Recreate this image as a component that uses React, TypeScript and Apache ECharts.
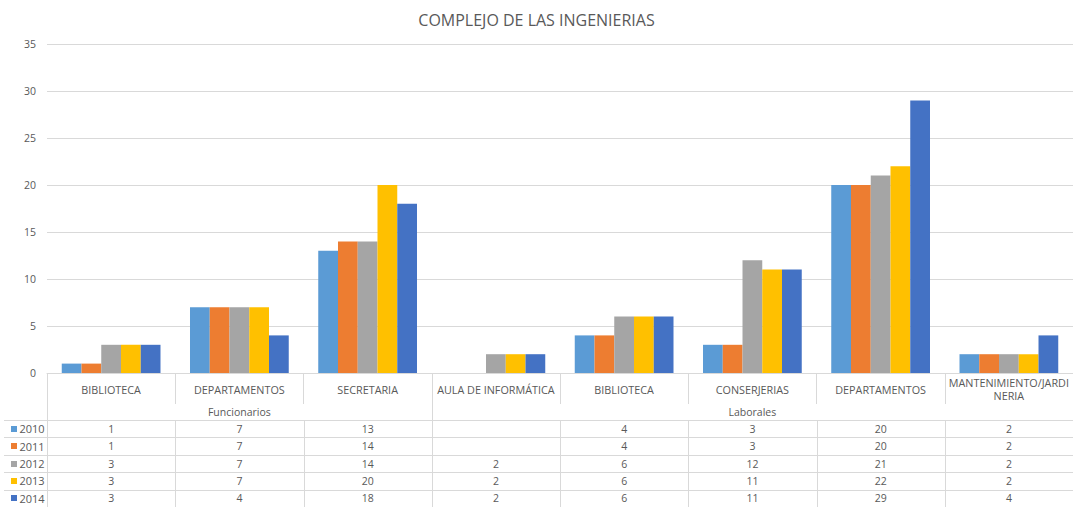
import React, { useEffect, useRef } from "react";
import * as echarts from "echarts";

const title = "COMPLEJO DE LAS INGENIERIAS";
const categories = [
  "BIBLIOTECA",
  "DEPARTAMENTOS",
  "SECRETARIA",
  "AULA DE INFORMÁTICA",
  "BIBLIOTECA",
  "CONSERJERIAS",
  "DEPARTAMENTOS",
  "MANTENIMIENTO/JARDINERIA",
];
const groups = [
  { name: "Funcionarios", start: 0, end: 2 },
  { name: "Laborales", start: 3, end: 7 },
];
const seriesNames = ["2010", "2011", "2012", "2013", "2014"];
const v2010 = [1, 7, 13, null, 4, 3, 20, 2];
const v2011 = [1, 7, 14, null, 4, 3, 20, 2];
const v2012 = [3, 7, 14, 2, 6, 12, 21, 2];
const v2013 = [3, 7, 20, 2, 6, 11, 22, 2];
const v2014 = [3, 4, 18, 2, 6, 11, 29, 4];
const seriesValues = [v2010, v2011, v2012, v2013, v2014];
const colors = ["#5B9BD5", "#ED7D31", "#A5A5A5", "#FFC000", "#4472C4"];
const yTicks = { min: 0, max: 35, interval: 5 };

const FONT = "'Open Sans', 'Noto Sans', sans-serif";
const TXT = "#595959";
const LINE = "#d9d9d9";
const W = 1073;
const H = 507;
const GRID_LEFT = 47;
const GRID_TOP = 44;
const GRID_BOTTOM = 134;
const TABLE_TOP = 420;
const ROW_H = 17.4;

export default function App() {
  const ref = useRef<HTMLDivElement>(null);
  useEffect(() => {
    if (!ref.current) return;
    const chart = echarts.init(ref.current, undefined, { renderer: "svg" });
    chart.setOption({
      animation: false,
      title: {
        text: title,
        left: "center",
        top: 7,
        textStyle: { fontFamily: FONT, fontSize: 16, fontWeight: "normal", color: TXT },
      },
      grid: { left: GRID_LEFT, right: 0, top: GRID_TOP, bottom: GRID_BOTTOM, containLabel: false },
      xAxis: {
        type: "category",
        data: categories,
        axisLine: { show: true, lineStyle: { color: LINE } },
        axisTick: { show: true, length: 31, lineStyle: { color: LINE } },
        axisLabel: {
          interval: 0,
          color: TXT,
          fontFamily: FONT,
          fontSize: 10.8,
          verticalAlign: "middle",
          margin: 16,
          lineHeight: 13,
          formatter: (v: string) => (v.length > 20 ? v.slice(0, 19) + "\n" + v.slice(19) : v),
        },
      },
      yAxis: {
        type: "value",
        min: yTicks.min,
        max: yTicks.max,
        interval: yTicks.interval,
        axisLine: { show: false },
        axisTick: { show: false },
        splitLine: { lineStyle: { color: LINE } },
        axisLabel: { color: TXT, fontFamily: FONT, fontSize: 10.5, margin: 11 },
      },
      series: seriesNames.map((n, i) => ({
        type: "bar",
        name: n,
        data: seriesValues[i],
        itemStyle: { color: colors[i] },
        barGap: "0%",
        barCategoryGap: "23%",
      })),
    });

    const px = (i: number) => chart.convertToPixel({ xAxisIndex: 0 }, i) as number;
    const cw = px(1) - px(0);
    const axisY = H - GRID_BOTTOM;
    const elements: any[] = [];
    const lineStyle = { stroke: LINE, lineWidth: 1 };
    elements.push({ type: "line", shape: { x1: GRID_LEFT + 0.5, y1: axisY, x2: GRID_LEFT + 0.5, y2: H }, style: lineStyle });
    const groupBounds = groups.slice(1).map((g) => g.start);
    for (let i = 1; i < categories.length; i++) {
      const x = Math.round(px(i) - cw / 2) + 0.5;
      const full = groupBounds.includes(i);
      elements.push({
        type: "line",
        shape: { x1: x, y1: full ? axisY : TABLE_TOP, x2: x, y2: H },
        style: lineStyle,
      });
    }
    for (let r = 0; r <= seriesNames.length; r++) {
      const y = Math.round(TABLE_TOP + r * ROW_H) + 0.5;
      elements.push({ type: "line", shape: { x1: 4, y1: y, x2: W, y2: y }, style: lineStyle });
    }
    groups.forEach((g) => {
      const x0 = px(g.start) - cw / 2;
      const x1 = px(g.end) + cw / 2;
      elements.push({
        type: "text",
        x: (x0 + x1) / 2,
        y: 412,
        style: { text: g.name, fill: TXT, font: `10.5px ${FONT}`, align: "center", verticalAlign: "middle" },
      });
    });
    seriesNames.forEach((n, r) => {
      const cy = TABLE_TOP + (r + 0.5) * ROW_H;
      elements.push({ type: "rect", shape: { x: 11, y: Math.round(cy) - 3, width: 6, height: 6 }, style: { fill: colors[r] } });
      elements.push({
        type: "text",
        x: 19.5,
        y: cy,
        style: { text: n, fill: TXT, font: `11px ${FONT}`, align: "left", verticalAlign: "middle" },
      });
      seriesValues[r].forEach((v, i) => {
        if (v === null || v === undefined) return;
        elements.push({
          type: "text",
          x: px(i),
          y: cy,
          style: { text: String(v), fill: TXT, font: `10.5px ${FONT}`, align: "center", verticalAlign: "middle" },
        });
      });
    });
    chart.setOption({ graphic: { elements } });
    return () => chart.dispose();
  }, []);
  return <div ref={ref} style={{ position: "fixed", left: 0, top: 0, width: W, height: H, background: "#fff" }} />;
}
